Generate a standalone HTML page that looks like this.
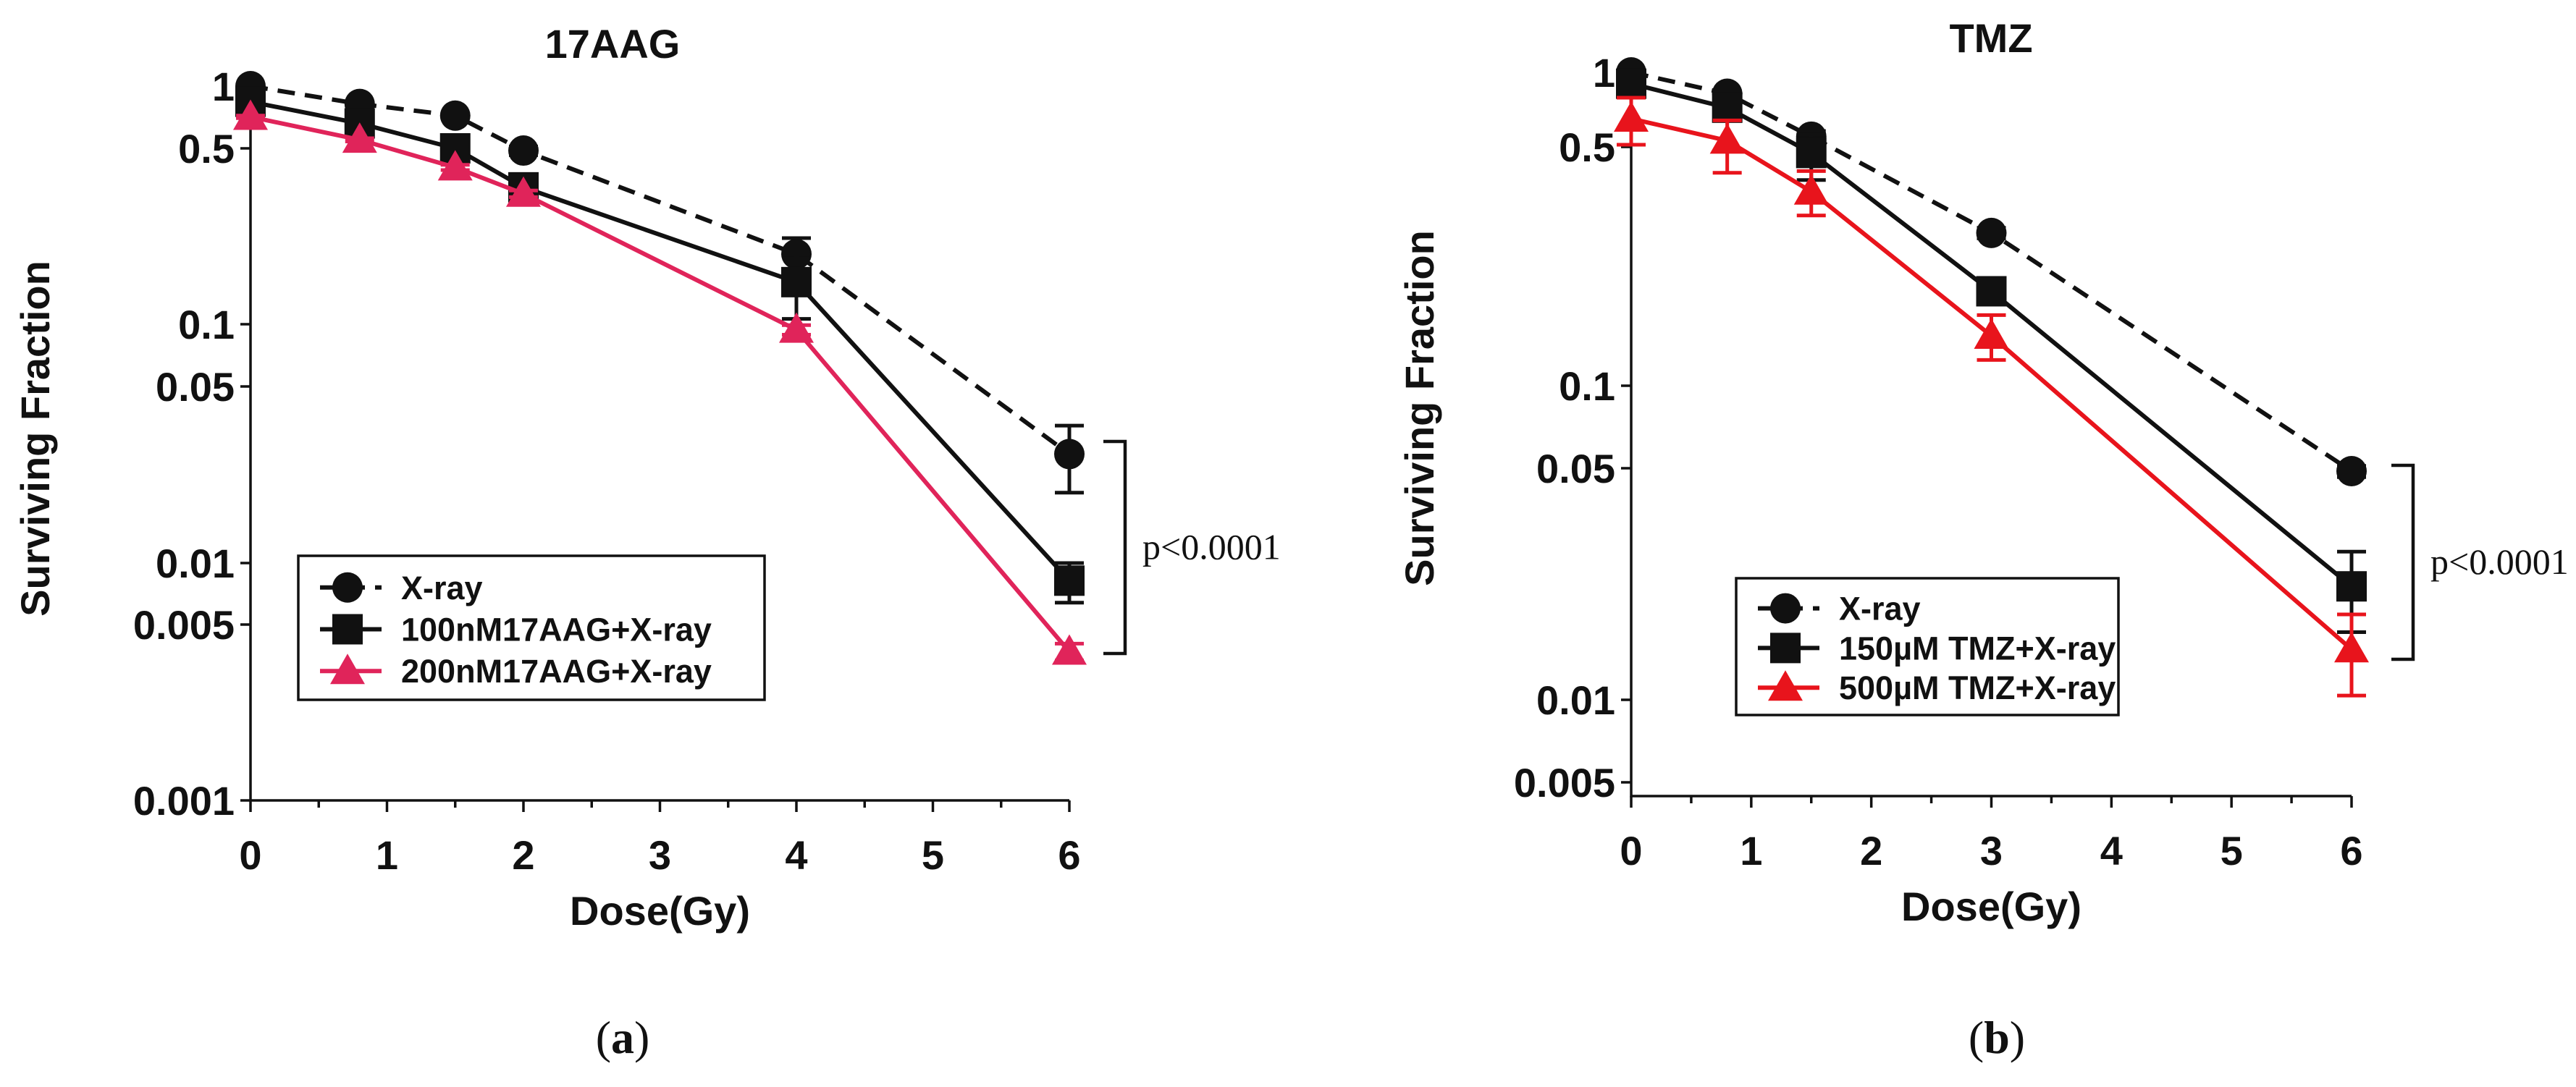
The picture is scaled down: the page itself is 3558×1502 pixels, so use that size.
<!DOCTYPE html>
<html><head><meta charset="utf-8"><style>
html,body{margin:0;padding:0;background:#fff;}
svg{display:block;}
.tk{font-family:"Liberation Sans",sans-serif;font-weight:bold;font-size:56px;fill:#111;}
.lg{font-family:"Liberation Sans",sans-serif;font-weight:bold;font-size:45px;fill:#111;}
.pv{font-family:"Liberation Serif",serif;font-size:50px;fill:#111;}
</style></head><body>
<svg id="fig" width="3558" height="1502" viewBox="0 0 3558 1502" xmlns="http://www.w3.org/2000/svg"></svg>
<script>
// ---- Data panel (a) 17AAG ----
const doseA = [0, 0.8, 1.5, 2, 4, 6];
const xrayA = [1.0, 0.82, 0.72, 0.49, 0.19, 0.027];
const xrayErrA = [0.02, 0.02, 0.02, 0.02, 0.03, 0.008];
const aag100 = [0.84, 0.66, 0.5, 0.35, 0.147, 0.0082];
const aag100Err = [0.02, 0.02, 0.02, 0.02, 0.042, 0.0018];
const aag200 = [0.71, 0.55, 0.42, 0.33, 0.094, 0.0039];
const aag200Err = [0.01, 0.01, 0.01, 0.01, 0.005, 0.0003];
const yTickLabelsA = ["1","0.5","0.1","0.05","0.01","0.005","0.001"];
const yTickValsA = [1,0.5,0.1,0.05,0.01,0.005,0.001];
// ---- Data panel (b) TMZ ----
const doseB = [0, 0.8, 1.5, 3, 6];
const xrayB = [1.0, 0.82, 0.55, 0.28, 0.049];
const xrayErrB = [0.02, 0.02, 0.03, 0.01, 0.002];
const tmz150 = [0.9, 0.72, 0.48, 0.189, 0.022];
const tmz150Err = [0.03, 0.03, 0.08, 0.01, 0.006];
const tmz500 = [0.65, 0.53, 0.37, 0.14, 0.0142];
const tmz500Err = [0.14, 0.11, 0.055, 0.021, 0.0039];
const yTickLabelsB = ["1","0.5","0.1","0.05","0.01","0.005"];
const yTickValsB = [1,0.5,0.1,0.05,0.01,0.005];
const xTickLabels = ["0","1","2","3","4","5","6"];

const NS="http://www.w3.org/2000/svg";
const svg=document.getElementById('fig');
function mk(tag,attrs,parent){const e=document.createElementNS(NS,tag);for(const k in attrs)e.setAttribute(k,attrs[k]);(parent||svg).appendChild(e);return e;}

function panel(cfg){
  const g=mk('g',{});
  
  
  const X=v=>cfg.x0+(cfg.x6-cfg.x0)*v/6;
  const Y=v=>{
    const L=Math.log10(v),tv=cfg.tickVals.map(Math.log10),tp=cfg.tickPos;
    let i=0; if(L<=tv[tv.length-1]) i=tv.length-2; else {while(i<tv.length-2 && L<tv[i+1]) i++;}
    if(L>tv[0]) i=0;
    return tp[i]+(tp[i+1]-tp[i])*(L-tv[i])/(tv[i+1]-tv[i]);
  };
  const ax=mk('path',{d:`M${cfg.x0},${cfg.yTop} V${cfg.yBot} H${cfg.x6}`,stroke:'#111','stroke-width':3.5,fill:'none'},g);
   
  cfg.tickVals.forEach((v,i)=>{
    const y=Y(v);
    mk('line',{x1:cfg.x0-14,x2:cfg.x0,y1:y,y2:y,stroke:'#111','stroke-width':3.5},g);
    const t=mk('text',{x:cfg.x0-22,y:y+20,'text-anchor':'end',class:'tk'},g);
    t.textContent=cfg.tickLabels[i];
     
  });
  for(let k=0;k<=12;k++){
    const x=X(k/2);
    mk('line',{x1:x,x2:x,y1:cfg.yBot,y2:cfg.yBot+(k%2?10:16),stroke:'#111','stroke-width':3.5},g);
  }
  xTickLabels.forEach((s,i)=>{
    const t=mk('text',{x:X(i),y:cfg.yBot+95,'text-anchor':'middle',class:'tk'},g);
    t.textContent=s;
     
  });
  let t=mk('text',{x:(cfg.x0+cfg.x6)/2,y:cfg.yBot+172,'text-anchor':'middle',class:'tk','font-size':64},g);
  t.textContent='Dose(Gy)';  
  t=mk('text',{x:0,y:0,'text-anchor':'middle',class:'tk','font-size':64,transform:`translate(${cfg.ytx},${cfg.yty}) rotate(-90)`},g);
  t.textContent='Surviving Fraction';  
  t=mk('text',{x:cfg.titleX,y:cfg.titleY,'text-anchor':'middle',class:'tk','font-size':72},g);
  t.textContent=cfg.title;  

  cfg.series.forEach(s=>{
    const sg=mk('g',{},g);
     
    s.vals.forEach((v,i)=>{
      const x=X(cfg.dose[i]),e=s.err[i];
      const y1=Y(v+e),y2=Y(Math.max(v-e,1e-6));
      mk('path',{d:`M${x},${y1} V${y2} M${x-20},${y1} H${x+20} M${x-20},${y2} H${x+20}`,stroke:s.color,'stroke-width':5,fill:'none'},sg);
    });
    const pts=s.vals.map((v,i)=>X(cfg.dose[i])+','+Y(v)).join(' ');
    const pl=mk('polyline',{points:pts,fill:'none',stroke:s.color,'stroke-width':6,'stroke-dasharray':s.dash?'24 14':'none'},sg);
     
    s.vals.forEach((v,i)=>{
      const m=marker(s.shape,X(cfg.dose[i]),Y(v),s.color,sg);
       
    });
  });
  const lgd=mk('g',{},g);  
  const L=cfg.legend;
  mk('rect',{x:L.x,y:L.y,width:L.w,height:L.h,fill:'#fff',stroke:'#111','stroke-width':3.5},lgd);
  cfg.series.forEach((s,i)=>{
    const yy=L.y+L.h*(0.22+0.29*i), lx=L.x+30;
    const en=mk('g',{},lgd);  
    mk('line',{x1:lx,x2:lx+85,y1:yy,y2:yy,stroke:s.color,'stroke-width':6,'stroke-dasharray':s.dash?'24 14':'none'},en);
    marker(s.shape,lx+38,yy,s.color,en);
    const tx=mk('text',{x:lx+112,y:yy+16,class:'lg'},en); tx.textContent=s.label;
  });
  const B=cfg.bracket;
  const br=mk('path',{d:`M${B.x-30},${B.y1} H${B.x} V${B.y2} H${B.x-30}`,stroke:'#111','stroke-width':4.5,fill:'none'},g);
   
  t=mk('text',{x:B.x+24,y:(B.y1+B.y2)/2+16,class:'pv'},g);
  t.textContent='p<0.0001';  
}
function marker(shape,x,y,c,p){
  if(shape==='circle') return mk('circle',{cx:x,cy:y,r:21,fill:c},p);
  if(shape==='square') return mk('rect',{x:x-21,y:y-21,width:42,height:42,fill:c},p);
  return mk('polygon',{points:`${x},${y-24} ${x+24},${y+18} ${x-24},${y+18}`,fill:c},p);
}
panel({name:'chart-17aag',title:'17AAG',titleX:846,titleY:80,x0:346,x6:1477,yTop:119,yBot:1106,
  tickVals:yTickValsA,tickLabels:yTickLabelsA,tickPos:[119,205,448,534,778,863,1106],
  ytx:68,yty:606,dose:doseA,
  series:[
    {key:'xray',label:'X-ray',vals:xrayA,err:xrayErrA,color:'#111',shape:'circle',dash:true},
    {key:'100nm-17aag',label:'100nM17AAG+X-ray',vals:aag100,err:aag100Err,color:'#111',shape:'square'},
    {key:'200nm-17aag',label:'200nM17AAG+X-ray',vals:aag200,err:aag200Err,color:'#e0245a',shape:'triangle'}],
  legend:{x:412,y:768,w:644,h:199},bracket:{x:1554,y1:610,y2:903}});
panel({name:'chart-tmz',title:'TMZ',titleX:2750,titleY:72,x0:2253,x6:3248,yTop:100,yBot:1100,
  tickVals:yTickValsB,tickLabels:yTickLabelsB,tickPos:[100,203,533,647,967,1081],
  ytx:1980,yty:564,dose:doseB,
  series:[
    {key:'xray',label:'X-ray',vals:xrayB,err:xrayErrB,color:'#111',shape:'circle',dash:true},
    {key:'150um-tmz',label:'150\u00b5M TMZ+X-ray',vals:tmz150,err:tmz150Err,color:'#111',shape:'square'},
    {key:'500um-tmz',label:'500\u00b5M TMZ+X-ray',vals:tmz500,err:tmz500Err,color:'#e8141c',shape:'triangle'}],
  legend:{x:2398,y:799,w:528,h:189},bracket:{x:3333,y1:643,y2:911}});
[['(','a',')',860,'caption-a'],['(','b',')',2758,'caption-b']].forEach(c=>{
  const t=mk('text',{x:c[3],y:1455,'text-anchor':'middle','font-family':'"Liberation Serif",serif','font-size':64,fill:'#111'});
   
  const a=mk('tspan',{},t);a.textContent=c[0];
  const b=mk('tspan',{'font-weight':'bold'},t);b.textContent=c[1];
  const d=mk('tspan',{},t);d.textContent=c[2];
});
</script>
</body></html>
